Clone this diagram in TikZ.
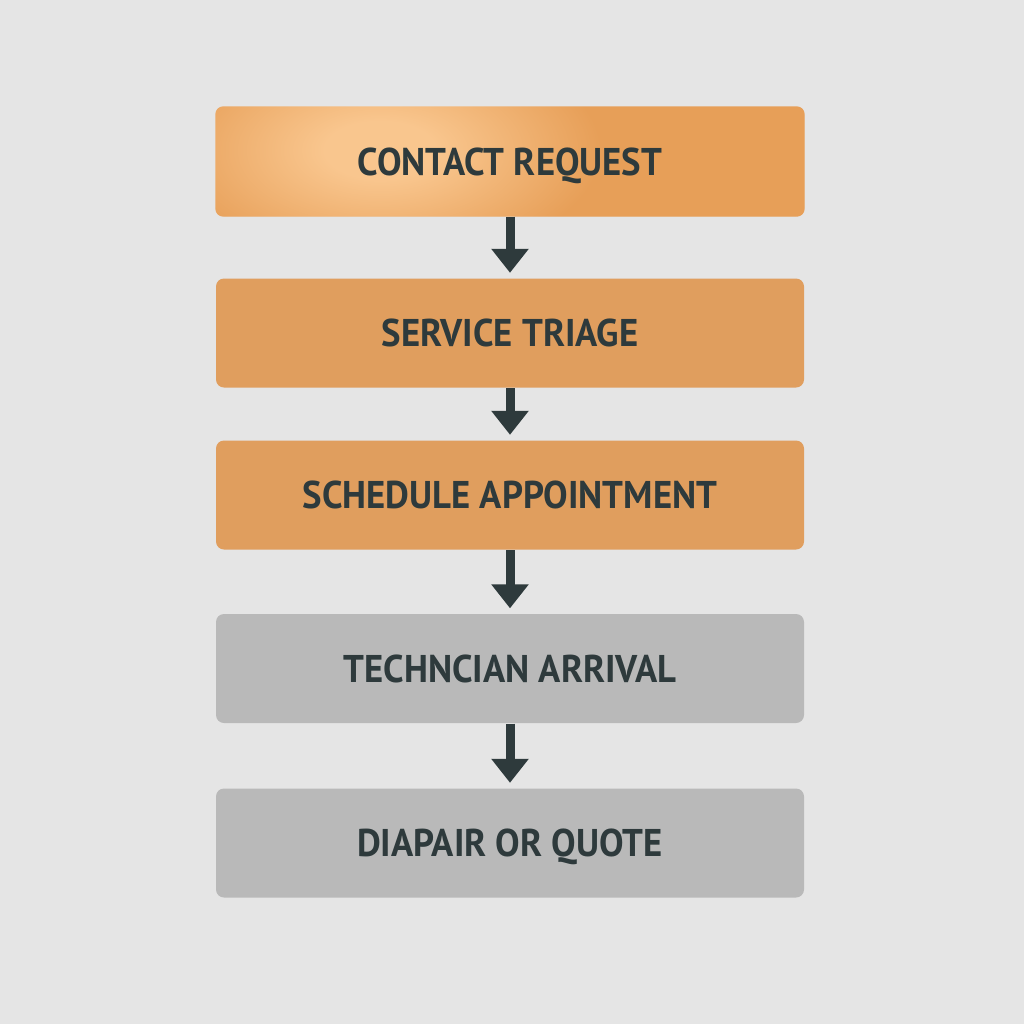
\documentclass[tikz,border=0pt]{standalone}
\usepackage{fontspec}
\setmainfont{PT Sans}[FakeStretch=0.95]
\usetikzlibrary{arrows.meta}
\definecolor{bgcol}{HTML}{E5E5E5}
\definecolor{orangebase}{HTML}{E79F58}
\definecolor{orangelight}{HTML}{F9C68E}
\definecolor{orangestep}{HTML}{E09E5E}
\definecolor{graystep}{HTML}{B9B9B9}
\definecolor{inkcol}{HTML}{2E3A3C}
\pgfdeclareradialshading{glow}{\pgfpoint{0bp}{0bp}}{color(0bp)=(orangelight);
  color(3bp)=(orangelight); color(12bp)=(orangebase); color(50bp)=(orangebase)}
\begin{document}
\begin{tikzpicture}[
  stepbox/.style={rectangle, rounded corners=.08cm, minimum width=5.88cm,
    minimum height=1.09cm, inner sep=0pt, text=inkcol,
    text height=7.7pt, text depth=0pt,
    font=\fontsize{11}{13}\selectfont\bfseries},
  flow/.style={-{Triangle[width=.36cm, length=.24cm]}, line width=.09cm,
    draw=inkcol, shorten >=.05cm}
]
\fill[bgcol] (0,0) rectangle (10.24,-10.24);
\useasboundingbox (0,0) rectangle (10.24,-10.24);
% first step with a soft highlight
\node[stepbox, fill=orangebase] (contact) at (5.10,-1.615) {};
\begin{scope}
  \clip[rounded corners=.08cm] (contact.south west) rectangle (contact.north east);
  \shade[shading=glow] (3.8,-1.5) ellipse (4.6 and 2.4);
\end{scope}
\node[stepbox] at (contact) {CONTACT REQUEST};
% remaining steps
\node[stepbox, fill=orangestep] (triage) at (5.10,-3.33) {SERVICE TRIAGE};
\node[stepbox, fill=orangestep] (schedule) at (5.10,-4.95) {SCHEDULE APPOINTMENT};
\node[stepbox, fill=graystep] (arrival) at (5.10,-6.685) {TECHNCIAN ARRIVAL};
\node[stepbox, fill=graystep] (repair) at (5.10,-8.43) {DIAPAIR OR QUOTE};
\foreach \a/\b in {contact/triage, triage/schedule, schedule/arrival, arrival/repair}
{
    \draw[flow] (\a.south)--(\b.north);
}
\end{tikzpicture}
\end{document}
